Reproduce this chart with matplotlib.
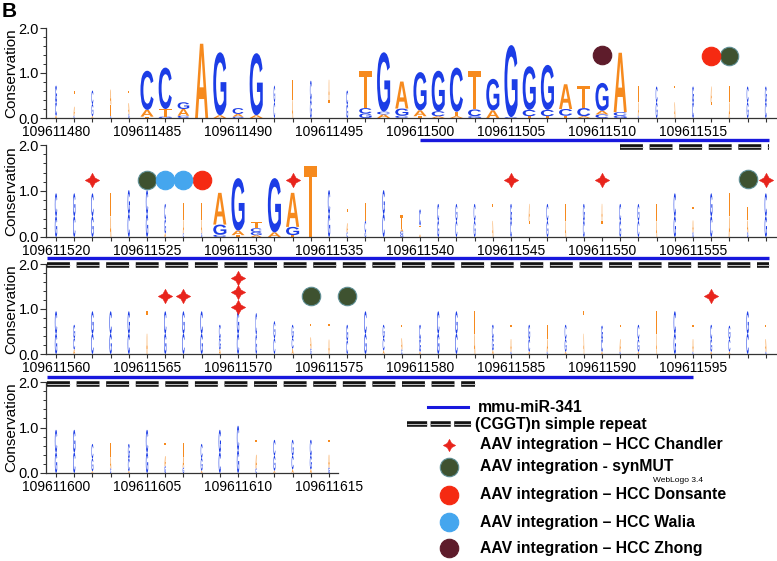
import matplotlib
matplotlib.use('Agg')
import matplotlib.pyplot as plt
from matplotlib.textpath import TextPath
from matplotlib.font_manager import FontProperties
from matplotlib.patches import PathPatch
from matplotlib.transforms import Affine2D, blended_transform_factory
from matplotlib.lines import Line2D

plt.rcParams['font.family'] = ['Liberation Sans', 'DejaVu Sans']
plt.rcParams['lines.scale_dashes'] = False

# ---------------- data ----------------
panel_starts = [109611480, 109611520, 109611560, 109611600]

# stacks bottom->top, "Letter+height(bits)"
p1_stacks = ["A.05 C.30 G.37", "C.05 A.20 T.34", "A.04 G.27 C.30", "C.05 T.25 A.33", "G.08 A.25 T.26",
             "T.03 A.15 C.87", "G.03 T.17 C.92", "C.05 A.15 G.15", "A1.65", "A.06 G1.40",
             "G.03 A.06 C.13", "A.06 G1.38", "C.35 G.37", "A.40 T.45", "G.40 C.43",
             "T.40 A.45", "G.30 C.31", "G.10 C.12 T.83", "A.08 C.06 G1.32", "C.05 G.16 A.60",
             "T.04 A.13 G.85", "A.04 C.11 G.90", "A.04 T.10 C.98", "G.04 C.15 T.86", "A.17 G.70",
             "C.02 G1.60", "T.04 C.14 G.97", "T.04 C.14 G1.00", "T.05 C.15 A.55", "A.04 C.18 T.50",
             "C.08 A.08 G.62", "G.05 C.08 A1.32", "C.05 A.30 T.37", "G.35 C.35", "A.35 T.37",
             "C.35 G.35", "T.35 A.35", "A.35 T.37", "G.35 C.35", "C.35 G.35"]
p1_widths = [.11, .07, .10, .07, .07, .72, .72, .64, .72, .72,
             .60, .72, .08, .06, .10, .06, .10, .68, .72, .72,
             .72, .72, .72, .72, .72, .72, .72, .72, .72, .72,
             .72, .72, .06, .10, .06, .10, .06, .07, .10, .10]

p2_stacks = ["G.45 C.50", "C.45 G.50", "G.45 C.50", "A.45 T.51", "C.50 G.52",
             "G.50 C.52", "A.08 G.30 C.34", "C.08 A.30 T.36", "G.08 A.30 T.36", "C.05 G.22 A.69",
             "T.04 A.10 G1.14", "A.04 G.07 C.08 T.14", "A.10 G1.18", "T.04 G.18 A.74", "T1.55",
             "G.50 C.52", "C.10 A.20 T.30", "G.10 C.25 T.38", "C.50 G.52", "G.06 C.06 A.05 T.30",
             "A.05 T.20 C.35", "G.35 C.37", "C.35 G.37", "G.35 C.37", "A.35 T.37",
             "C.35 G.37", "T.35 A.37", "G.35 C.37", "A.35 T.37", "C.35 G.37",
             "T.35 A.37", "G.35 C.37", "C.35 G.37", "A.35 T.37", "G.45 C.50",
             "G.10 A.26 T.30", "C.45 G.50", "A.45 T.51", "G.10 A.26 T.30", "G.45 C.50"]
p2_widths = [.13, .13, .13, .07, .13, .13, .09, .06, .06, .72,
             .72, .60, .72, .72, .72, .13, .07, .08, .13, .17,
             .10, .10, .10, .10, .06, .10, .06, .10, .06, .10,
             .06, .10, .10, .06, .13, .07, .13, .07, .07, .13]

p3_stacks = ["G.45 C.50", "A.10 C.25 G.30", "C.45 G.50", "G.45 C.50", "C.45 G.50",
             "A.45 T.51", "G.45 C.50", "C.45 G.50", "G.45 C.50", "A.10 G.25 C.30",
             "C.45 G.50", "G.43 C.48", "C.35 G.38", "A.12 C.23 G.30", "G.12 A.25 T.30",
             "A.32 T.35", "C.30 G.35", "G.45 C.50", "A.08 C.27 G.30", "C.10 A.25 T.30",
             "A.05 G.28 C.32", "G.45 C.50", "C.45 G.50", "A.45 T.50", "A.08 G.27 C.30",
             "G.05 A.28 T.32", "A.05 C.28 G.32", "C.05 A.28 T.32", "A.05 G.28 C.32", "A.45 T.50",
             "A.05 C.28 G.30", "G.05 A.28 T.32", "A.05 G.28 C.32", "A.45 T.50", "G.45 C.50",
             "C.05 A.28 T.32", "A.05 G.28 C.32", "A.05 C.28 G.30", "C.45 G.50", "G.05 A.28 T.32"]
p3_widths = [.13, .10, .13, .13, .13, .07, .13, .13, .13, .10,
             .13, .09, .10, .10, .07, .07, .10, .13, .10, .07,
             .10, .13, .13, .07, .10, .07, .10, .07, .10, .05,
             .10, .07, .10, .05, .13, .07, .10, .10, .13, .07]

p4_stacks = ["G.45 C.50", "C.45 G.50", "A.04 G.28 C.32", "C.10 A.25 T.31", "A.04 C.28 G.32",
             "G.45 C.50", "G.15 A.22 T.29", "G.12 A.24 T.30", "A.05 G.28 C.31", "C.45 G.50",
             "G.50 C.54", "C.10 A.30 T.33", "A.05 G.33 C.35", "A.08 C.30 G.35", "A.08 G.30 C.35",
             "G.12 A.28 T.33"]
p4_widths = [.13, .13, .10, .07, .10, .13, .08, .08, .10, .13,
             .13, .08, .11, .11, .11, .08]

# annotations (genomic positions)
mir_start, mir_end = 109611500, 109611595
rep_start, rep_end = 109611511, 109611583

chandler_x = [109611522, 109611533, 109611545, 109611550, 109611559,
              109611566, 109611567, 109611570, 109611570, 109611570, 109611596]
chandler_y = [1.24, 1.24, 1.24, 1.24, 1.24, 1.30, 1.30, 1.04, 1.38, 1.68, 1.30]
synmut_x = [109611517, 109611525, 109611558, 109611574, 109611576]
synmut_y = [1.38, 1.24, 1.26, 1.29, 1.29]
donsante_x = [109611516, 109611528]
donsante_y = [1.38, 1.24]
walia_x = [109611526, 109611527]
walia_y = [1.24, 1.24]
zhong_x = [109611510]
zhong_y = [1.40]

legend_labels = ['mmu-miR-341', '(CGGT)n simple repeat', 'AAV integration \u2013 HCC Chandler',
                 'AAV integration - synMUT', 'AAV integration \u2013 HCC Donsante',
                 'AAV integration \u2013 HCC Walia', 'AAV integration \u2013 HCC Zhong']

# ---------------- style ----------------
ORANGE = '#F68A1E'
BLUE = '#1C3DE6'
C_CHANDLER = '#E8241C'
C_SYN = '#3E5230'
C_DON = '#F52A12'
C_WAL = '#45A6EE'
C_ZHO = '#5E1C2B'
MIR_BLUE = '#1818DD'
letter_color = {'A': ORANGE, 'T': ORANGE, 'C': BLUE, 'G': BLUE}

W, H = 777, 561
fig = plt.figure(figsize=(W / 100, H / 100), dpi=100)

fp = FontProperties(family='Liberation Sans', weight='bold')
glyphs = {c: TextPath((0, 0), c, size=1, prop=fp) for c in 'ACGT'}


def draw_letter(ax, c, x, y0, w, h):
    p = glyphs[c]
    ext = p.get_extents()
    t = (Affine2D().translate(-ext.x0, -ext.y0)
         .scale(w / ext.width, h / ext.height)
         .translate(x - w / 2, y0))
    ax.add_patch(PathPatch(t.transform_path(p), fc=letter_color[c], ec='none', lw=0, zorder=2))


def parse(s):
    return [(tok[0], float(tok[1:])) for tok in s.split()]


# panel layout in pixels: (top, bottom, right)
layout = [(28, 118, 777), (145, 237, 777), (264, 354, 777), (382, 473, 338)]
LEFT = 46
PX_PER_POS = 18.2
all_stacks = [p1_stacks, p2_stacks, p3_stacks, p4_stacks]
all_widths = [p1_widths, p2_widths, p3_widths, p4_widths]

axes = []
for k, (start, (top, bot, right)) in enumerate(zip(panel_starts, layout)):
    ax = fig.add_axes([LEFT / W, 1 - bot / H, (right - LEFT) / W, (bot - top) / H])
    axes.append(ax)
    n = len(all_stacks[k])
    x0 = start - 0.55
    ax.set_xlim(x0, x0 + (right - LEFT) / PX_PER_POS)
    ax.set_ylim(0, 2.0)
    for i, (s, w) in enumerate(zip(all_stacks[k], all_widths[k])):
        y = 0.0
        for c, h in parse(s):
            draw_letter(ax, c, start + i, y, w, h)
            y += h
    for sp in ['top', 'right']:
        ax.spines[sp].set_visible(False)
    for sp in ['left', 'bottom']:
        ax.spines[sp].set_color('#333333')
        ax.spines[sp].set_linewidth(0.9)
    majors = [v for v in range(start, start + n) if v % 5 == 0]
    ax.set_xticks(majors)
    ax.set_xticklabels([str(v) for v in majors], fontsize=10)
    ax.set_xticks(list(range(start, start + n)), minor=True)
    ax.tick_params(axis='x', which='both', length=3, width=0.8, pad=2.2, color='#333333')
    ax.set_yticks([0, 1, 2])
    ax.set_yticklabels(['0.0', '1.0', '2.0'], fontsize=10.5)
    ax.set_yticks([0.2, 0.4, 0.6, 0.8, 1.2, 1.4, 1.6, 1.8], minor=True)
    ax.tick_params(axis='y', which='major', length=4, width=0.8, pad=1.2, color='#333333')
    ax.tick_params(axis='y', which='minor', length=2.5, width=0.7, color='#333333')
    ax.set_ylabel('Conservation', fontsize=11)
    ax.yaxis.set_label_coords((18 - LEFT) / (right - LEFT), 0.5)
    ax.patch.set_alpha(0)

    # integration markers
    lo, hi = start, start + n - 1
    def sel(xs, ys):
        pts = [(a, b) for a, b in zip(xs, ys) if lo <= a <= hi]
        return [p[0] for p in pts], [p[1] for p in pts]
    for xs, ys, col in [(synmut_x, synmut_y, C_SYN), (donsante_x, donsante_y, C_DON),
                        (walia_x, walia_y, C_WAL), (zhong_x, zhong_y, C_ZHO)]:
        a, b = sel(xs, ys)
        if a:
            ax.plot(a, b, ls='none', marker='o', ms=13.3, mfc=col,
                    mec=('#5f8f95' if col == C_SYN else col), mew=0.8, zorder=5, clip_on=False)
    a, b = sel(chandler_x, chandler_y)
    if a:
        ax.plot(a, b, ls='none', marker=(4, 1, 0), ms=10.5, mfc=C_CHANDLER, mec=C_CHANDLER,
                mew=0.3, zorder=6, clip_on=False)

# annotation bars below panels 1-3
bar_y = [(140, 147), (258, 265), (377, 384)]
DASH = (16.5, 4.8)
for k in range(3):
    ax = axes[k]
    start = panel_starts[k]
    n = len(all_stacks[k])
    lo, hi = start - 0.5, start + n - 1 + 0.2
    tr = blended_transform_factory(ax.transData, fig.transFigure)
    ymir, yrep = bar_y[k]
    a, b = max(mir_start, lo), min(mir_end, hi)
    if a < b:
        fig.add_artist(Line2D([a, b], [1 - ymir / H] * 2, transform=tr, color=MIR_BLUE,
                              lw=2.4, solid_capstyle='butt', zorder=3))
    a, b = max(rep_start, lo), min(rep_end, hi)
    if a < b:
        fig.add_artist(Line2D([a, b], [1 - yrep / H] * 2, transform=tr, color='#111111',
                              lw=4.0, dashes=DASH, dash_capstyle='butt', zorder=3))
        fig.add_artist(Line2D([a, b], [1 - yrep / H] * 2, transform=tr, color='#bdbdbd',
                              lw=0.8, dashes=DASH, dash_capstyle='butt', zorder=4))

# legend (manual)
ft = fig.transFigure
def fx(x):
    return x / W
def fy(y):
    return 1 - y / H

leg_y = [407, 424, 445, 467, 495, 522, 548]
fig.add_artist(Line2D([fx(428), fx(468)], [fy(leg_y[0])] * 2, transform=ft, color=MIR_BLUE, lw=2.2))
fig.add_artist(Line2D([fx(407), fx(471)], [fy(leg_y[1])] * 2, transform=ft, color='#111111',
                      lw=4.0, dashes=(14.5, 2.5), dash_capstyle='butt'))
fig.add_artist(Line2D([fx(407), fx(471)], [fy(leg_y[1])] * 2, transform=ft, color='#bdbdbd',
                      lw=0.8, dashes=(14.5, 2.5), dash_capstyle='butt'))
fig.add_artist(Line2D([fx(449)], [fy(leg_y[2])], transform=ft, ls='none', marker=(4, 1, 0), ms=9,
                      mfc=C_CHANDLER, mec=C_CHANDLER, mew=0.3))
for yy, col in zip(leg_y[3:], [C_SYN, C_DON, C_WAL, C_ZHO]):
    fig.add_artist(Line2D([fx(449)], [fy(yy)], transform=ft, ls='none', marker='o', ms=13.3,
                          mfc=col, mec=('#5f8f95' if col == C_SYN else col), mew=0.8))
text_x = [478, 475, 480, 480, 480, 480, 480]
for lab, xx, yy in zip(legend_labels, text_x, leg_y):
    fig.text(fx(xx), fy(yy), lab, fontsize=11.3, fontweight='bold', va='center', ha='left')

fig.text(fx(653), fy(480), 'WebLogo 3.4', fontsize=6, va='center', ha='left')
fig.text(fx(2), fy(17), 'B', fontsize=15, fontweight='bold', va='baseline', ha='left')

fig.savefig('out.png', dpi=100)
